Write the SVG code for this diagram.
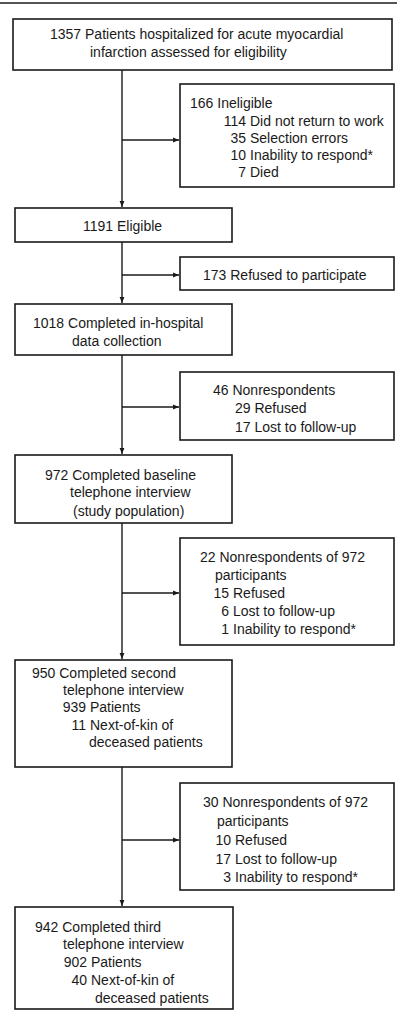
<svg xmlns="http://www.w3.org/2000/svg" width="397" height="1011" viewBox="0 0 397 1011">
<defs>
<style>
.box{fill:none;stroke:#1a1a1a;stroke-width:1.6}
.ln{fill:none;stroke:#1a1a1a;stroke-width:1.4}
text{font-family:"Liberation Sans",Arial,sans-serif;font-size:14px;fill:#1a1a1a}
.r{text-anchor:end}
</style>
<marker id="ah" viewBox="0 0 10 10" refX="10" refY="5" markerWidth="6" markerHeight="6" orient="auto" markerUnits="userSpaceOnUse">
<path d="M0,1 L10,5 L0,9 z" fill="#1a1a1a"/>
</marker>
</defs>
<rect width="397" height="1011" fill="#fff"/>
<line x1="0" y1="3" x2="397" y2="3" class="ln"/>

<g id="connectors">
<line x1="122" y1="70" x2="122" y2="207" class="ln" marker-end="url(#ah)"/>
<line x1="122" y1="140" x2="179" y2="140" class="ln" marker-end="url(#ah)"/>
<line x1="122" y1="242" x2="122" y2="303" class="ln" marker-end="url(#ah)"/>
<line x1="122" y1="275" x2="179" y2="275" class="ln" marker-end="url(#ah)"/>
<line x1="122" y1="355" x2="122" y2="454" class="ln" marker-end="url(#ah)"/>
<line x1="122" y1="407" x2="179" y2="407" class="ln" marker-end="url(#ah)"/>
<line x1="122" y1="523" x2="122" y2="659" class="ln" marker-end="url(#ah)"/>
<line x1="122" y1="593" x2="179" y2="593" class="ln" marker-end="url(#ah)"/>
<line x1="122" y1="767" x2="122" y2="906" class="ln" marker-end="url(#ah)"/>
<line x1="122" y1="840" x2="179" y2="840" class="ln" marker-end="url(#ah)"/>
</g>

<g id="n1357">
<rect x="13" y="19" width="379" height="51" class="box"/>
<text x="50" y="39">1357 Patients hospitalized for acute myocardial</text>
<text x="90" y="57">infarction assessed for eligibility</text>
</g>

<g id="n166">
<rect x="180" y="84" width="214" height="103" class="box"/>
<text x="190" y="108">166 Ineligible</text>
<text x="246" y="126" class="r">114</text><text x="250" y="126">Did not return to work</text>
<text x="246" y="143" class="r">35</text><text x="250" y="143">Selection errors</text>
<text x="246" y="160" class="r">10</text><text x="250" y="160">Inability to respond*</text>
<text x="246" y="177" class="r">7</text><text x="250" y="177">Died</text>
</g>

<g id="n1191">
<rect x="15" y="208" width="217" height="34" class="box"/>
<text x="83" y="231">1191 Eligible</text>
</g>

<g id="n173">
<rect x="180" y="257" width="214" height="33" class="box"/>
<text x="203" y="280">173 Refused to participate</text>
</g>

<g id="n1018">
<rect x="15" y="304" width="217" height="51" class="box"/>
<text x="33" y="328">1018 Completed in-hospital</text>
<text x="72" y="346">data collection</text>
</g>

<g id="n46">
<rect x="180" y="372" width="214" height="68" class="box"/>
<text x="213" y="395">46 Nonrespondents</text>
<text x="235" y="413">29 Refused</text>
<text x="235" y="432">17 Lost to follow-up</text>
</g>

<g id="n972">
<rect x="15" y="455" width="217" height="68" class="box"/>
<text x="45" y="480">972 Completed baseline</text>
<text x="70" y="497">telephone interview</text>
<text x="73" y="516">(study population)</text>
</g>

<g id="n22">
<rect x="180" y="538" width="214" height="107" class="box"/>
<text x="200" y="562">22 Nonrespondents of 972</text>
<text x="215" y="580">participants</text>
<text x="229" y="598" class="r">15</text><text x="233" y="598">Refused</text>
<text x="229" y="616" class="r">6</text><text x="233" y="616">Lost to follow-up</text>
<text x="229" y="634" class="r">1</text><text x="233" y="634">Inability to respond*</text>
</g>

<g id="n950">
<rect x="15" y="660" width="217" height="107" class="box"/>
<text x="32" y="678">950 Completed second</text>
<text x="63" y="695">telephone interview</text>
<text x="86" y="712" class="r">939</text><text x="90" y="712">Patients</text>
<text x="86" y="730" class="r">11</text><text x="90" y="730">Next-of-kin of</text>
<text x="89" y="747">deceased patients</text>
</g>

<g id="n30">
<rect x="180" y="783" width="214" height="107" class="box"/>
<text x="203" y="807">30 Nonrespondents of 972</text>
<text x="217" y="826">participants</text>
<text x="231" y="845" class="r">10</text><text x="235" y="845">Refused</text>
<text x="231" y="864" class="r">17</text><text x="235" y="864">Lost to follow-up</text>
<text x="231" y="882" class="r">3</text><text x="235" y="882">Inability to respond*</text>
</g>

<g id="n942">
<rect x="15" y="907" width="218" height="102" class="box"/>
<text x="35" y="932">942 Completed third</text>
<text x="63" y="949">telephone interview</text>
<text x="87" y="967" class="r">902</text><text x="91" y="967">Patients</text>
<text x="87" y="985" class="r">40</text><text x="91" y="985">Next-of-kin of</text>
<text x="95" y="1003">deceased patients</text>
</g>
</svg>
